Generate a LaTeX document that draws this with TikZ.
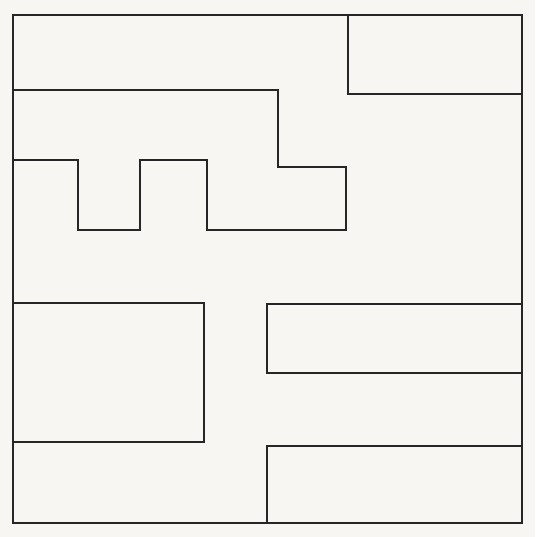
\documentclass[tikz,border=0pt]{standalone}
\usepackage{tikz}
\definecolor{paper}{HTML}{F7F6F2}
\begin{document}
\begin{tikzpicture}[
    x=0.02cm, y=-0.02cm,
    wall/.style={draw=black!85, line width=0.7pt, line join=miter},
]
% Canvas (pixel units, y downwards)
\fill[paper] (0, 0) rectangle (535, 537);
\useasboundingbox (0, 0) rectangle (535, 537);

% Outer frame
\draw[wall] (13, 15) rectangle (522, 523);

% Top right block
\draw[wall] (348, 15) -- (348, 94) -- (522, 94);

% Stepped wall with two notches
\draw[wall] (13, 90) -- (278, 90) -- (278, 167) -- (346, 167) -- (346, 230)
    -- (207, 230) -- (207, 160) -- (140, 160) -- (140, 230) -- (78, 230)
    -- (78, 160) -- (13, 160);

% Left block
\draw[wall] (13, 303) -- (204, 303) -- (204, 442) -- (13, 442);

% Right middle block
\draw[wall] (522, 304) -- (267, 304) -- (267, 373) -- (522, 373);

% Bottom right block
\draw[wall] (267, 523) -- (267, 446) -- (522, 446);
\end{tikzpicture}
\end{document}
